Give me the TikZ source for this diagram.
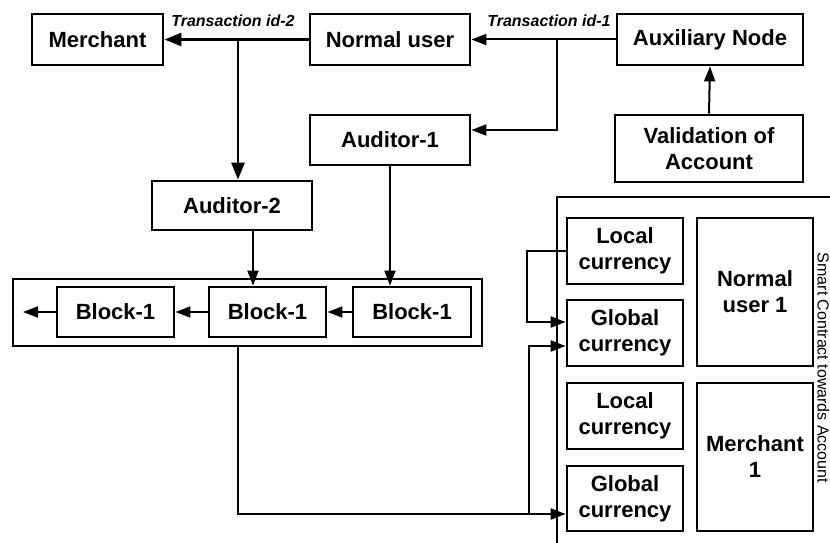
\documentclass[tikz,border=0pt]{standalone}
\usepackage{fontspec}
\setmainfont{Liberation Sans}
\usetikzlibrary{arrows.meta}
\begin{document}
\begin{tikzpicture}[x=1pt,y=-1pt,
  box/.style={draw, line width=2.8pt, inner sep=0pt, align=center, font=\fontsize{22}{26}\selectfont\bfseries},
  thickarrow/.style={line width=2.8pt, -{Triangle[length=17pt,width=13pt]}},
  thinarrow/.style={line width=2pt, -{Triangle[length=15pt,width=11pt]}},
  framebox/.style={draw, line width=1.4pt, inner sep=0pt},
  tlabel/.style={font=\fontsize{16}{18}\selectfont\bfseries\itshape, inner sep=0pt}
]
\useasboundingbox (0,0) rectangle (830,543);
\clip (0,0) rectangle (830,543);

% top row
\node[box, minimum width=131pt, minimum height=51pt] (merchant) at (97.5,39.5) {Merchant};
\node[box, minimum width=160pt, minimum height=51pt] (nuser) at (390,39.5) {Normal user};
\node[box, minimum width=186pt, minimum height=51pt] (aux) at (710,39.5) {Auxiliary Node};
\node[box, minimum width=188pt, minimum height=67pt] (valid) at (709,148.5) {Validation of\\Account};
\node[box, minimum width=160pt, minimum height=50pt] (aud1) at (390,140) {Auditor-1};
\node[box, minimum width=160pt, minimum height=49pt] (aud2) at (232,205.5) {Auditor-2};

% block chain
\node[framebox, minimum width=469pt, minimum height=67pt] (chain) at (247.5,312.5) {};
\node[box, minimum width=117pt, minimum height=50pt] (blkL) at (115.5,312) {Block-1};
\node[box, minimum width=117pt, minimum height=50pt] (blkM) at (267.5,312) {Block-1};
\node[box, minimum width=118pt, minimum height=50pt] (blkR) at (412,312) {Block-1};
\coordinate (chainend) at (23,312);

% smart contract area
\node[framebox, minimum width=343pt, minimum height=403pt] (sc) at (728.5,398.5) {};
\node[box, minimum width=116pt, minimum height=66pt] (loc1) at (625,251) {Local\\currency};
\node[box, minimum width=116pt, minimum height=66pt] (glob1) at (625,333) {Global\\currency};
\node[box, minimum width=116pt, minimum height=66pt] (loc2) at (625,416) {Local\\currency};
\node[box, minimum width=116pt, minimum height=65pt] (glob2) at (625,498.5) {Global\\currency};
\node[box, minimum width=116pt, minimum height=148pt] (nu1) at (755,292) {Normal\\user 1};
\node[box, minimum width=116pt, minimum height=148pt] (m1) at (755,457) {Merchant\\1};
\node[rotate=-90, anchor=base, inner sep=0pt, font=\fontsize{16}{19}\selectfont] (sclabel) at (817.5,368) {Smart Contract towards Account};

% labels
\node[tlabel] (t2) at (233,21) {Transaction id-2};
\node[tlabel] (t1) at (549,21) {Transaction id-1};

% connectors
\draw[thickarrow] (nuser.west) -- (merchant.east);
\coordinate (b2) at (238,39.5);
\draw[thickarrow] (b2) -- (b2 |- aud2.north);

\draw[thinarrow] (aux.west) -- (nuser.east);
\coordinate (b1) at (557,39.5);
\draw[thinarrow] (b1) |- ([yshift=10pt]aud1.east);

\draw[thinarrow] (valid.north) -- (aux.south);

\draw[thinarrow] ([xshift=21pt]aud2.south) -- ([xshift=21pt]aud2.south |- blkM.north);
\draw[thinarrow] (aud1.south) -- (aud1.south |- blkR.north);

\draw[thinarrow] (blkR.west) -- (blkM.east);
\draw[thinarrow] (blkM.west) -- (blkL.east);
\draw[thinarrow] (blkL.west) -- (chainend);

\draw[thinarrow] (b2 |- chain.south) |- ([yshift=-15.5pt]glob2.west);
\coordinate (j) at (529,514);
\draw[thinarrow] (j) |- ([yshift=-13pt]glob1.west);
\draw[thinarrow] (loc1.west) -- ++(-39pt,0) |- ([yshift=11pt]glob1.west);
\end{tikzpicture}
\end{document}
